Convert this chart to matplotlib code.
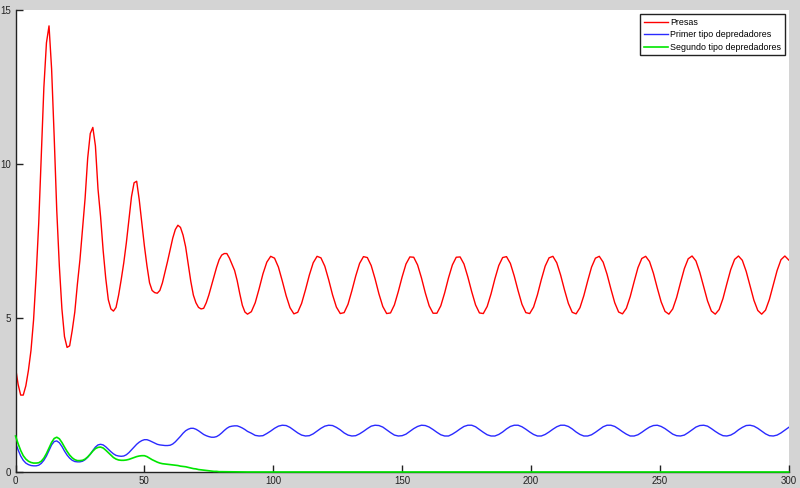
import numpy as np
import matplotlib.pyplot as plt

plt.rcParams['font.family'] = ['Liberation Sans', 'DejaVu Sans']

# sampling grid: fine at the start, coarser once the cycles settle
t_early = np.arange(0, 91, 1.0)
t_late = np.arange(91.5, 300.1, 1.5)
t = np.concatenate([t_early, t_late])

presas_early = [
    3.40, 2.85, 2.50, 2.50, 2.80, 3.30, 3.95, 4.94, 6.38, 8.08,
    10.30, 12.50, 13.95, 14.50, 13.10, 10.90, 8.50, 6.70, 5.30, 4.40,
    4.05, 4.10, 4.60, 5.20, 6.10, 6.90, 7.90, 8.90, 10.20, 11.00,
    11.20, 10.60, 9.20, 8.30, 7.20, 6.30, 5.60, 5.30, 5.23, 5.35,
    5.75, 6.25, 6.80, 7.45, 8.20, 8.95, 9.40, 9.45, 8.85, 8.10,
    7.35, 6.70, 6.15, 5.90, 5.83, 5.81, 5.90, 6.15, 6.50, 6.85,
    7.22, 7.60, 7.88, 8.02, 7.95, 7.70, 7.32, 6.75, 6.20, 5.75,
    5.50, 5.35, 5.30, 5.32, 5.50, 5.75, 6.05, 6.35, 6.65, 6.90,
    7.05, 7.10, 7.10, 6.95, 6.75, 6.55, 6.22, 5.80, 5.42, 5.20,
    5.13,
]
presas_late = [
    5.21, 5.50, 5.95, 6.44, 6.82, 7.01, 6.95, 6.66, 6.21, 5.73,
    5.34, 5.14, 5.19, 5.48, 5.92, 6.40, 6.80, 7.01, 6.96, 6.69,
    6.25, 5.76, 5.36, 5.15, 5.18, 5.45, 5.89, 6.37, 6.78, 7.00,
    6.97, 6.71, 6.28, 5.79, 5.38, 5.15, 5.17, 5.43, 5.86, 6.34,
    6.76, 6.99, 6.98, 6.73, 6.31, 5.82, 5.40, 5.16, 5.16, 5.40,
    5.82, 6.31, 6.73, 6.98, 6.99, 6.76, 6.34, 5.86, 5.43, 5.17,
    5.15, 5.38, 5.79, 6.28, 6.71, 6.97, 7.00, 6.78, 6.37, 5.89,
    5.45, 5.18, 5.15, 5.36, 5.76, 6.25, 6.69, 6.96, 7.01, 6.80,
    6.40, 5.92, 5.48, 5.19, 5.14, 5.34, 5.73, 6.21, 6.66, 6.95,
    7.01, 6.82, 6.43, 5.95, 5.50, 5.20, 5.14, 5.32, 5.70, 6.18,
    6.64, 6.94, 7.01, 6.84, 6.46, 5.98, 5.53, 5.22, 5.13, 5.30,
    5.67, 6.15, 6.61, 6.93, 7.02, 6.86, 6.49, 6.02, 5.56, 5.23,
    5.13, 5.28, 5.64, 6.12, 6.58, 6.91, 7.02, 6.88, 6.52, 6.05,
    5.58, 5.25, 5.13, 5.26, 5.61, 6.08, 6.55, 6.90, 7.02, 6.89,
]

primer_early = [
    0.95, 0.72, 0.52, 0.38, 0.29, 0.24, 0.21, 0.20, 0.20, 0.22,
    0.28, 0.38, 0.52, 0.70, 0.88, 0.99, 1.01, 0.95, 0.83, 0.68,
    0.55, 0.45, 0.38, 0.34, 0.33, 0.33, 0.35, 0.40, 0.48, 0.58,
    0.70, 0.81, 0.88, 0.90, 0.88, 0.82, 0.74, 0.66, 0.59, 0.54,
    0.52, 0.51, 0.52, 0.56, 0.63, 0.72, 0.81, 0.90, 0.97, 1.02,
    1.05, 1.05, 1.02, 0.98, 0.94, 0.90, 0.88, 0.87, 0.86, 0.86,
    0.87, 0.91, 0.98, 1.07, 1.16, 1.26, 1.34, 1.39, 1.42, 1.42,
    1.39, 1.34, 1.28, 1.22, 1.18, 1.15, 1.13, 1.13, 1.15, 1.20,
    1.27, 1.35, 1.42, 1.47, 1.49, 1.50, 1.50, 1.47, 1.43, 1.38,
    1.32,
]
primer_late = [
    1.26, 1.19, 1.17, 1.18, 1.25, 1.33, 1.42, 1.49, 1.52, 1.51,
    1.45, 1.36, 1.27, 1.20, 1.17, 1.18, 1.24, 1.33, 1.42, 1.49,
    1.52, 1.51, 1.45, 1.37, 1.27, 1.20, 1.17, 1.18, 1.24, 1.32,
    1.41, 1.49, 1.52, 1.51, 1.46, 1.37, 1.28, 1.20, 1.17, 1.18,
    1.23, 1.32, 1.41, 1.48, 1.52, 1.51, 1.46, 1.38, 1.29, 1.21,
    1.17, 1.17, 1.23, 1.31, 1.40, 1.48, 1.52, 1.52, 1.47, 1.38,
    1.29, 1.21, 1.17, 1.17, 1.22, 1.30, 1.40, 1.48, 1.52, 1.52,
    1.47, 1.39, 1.30, 1.22, 1.17, 1.17, 1.22, 1.30, 1.39, 1.47,
    1.52, 1.52, 1.48, 1.40, 1.30, 1.22, 1.17, 1.17, 1.21, 1.29,
    1.38, 1.47, 1.52, 1.52, 1.48, 1.40, 1.31, 1.23, 1.17, 1.17,
    1.21, 1.29, 1.38, 1.46, 1.51, 1.52, 1.48, 1.41, 1.32, 1.23,
    1.18, 1.17, 1.20, 1.28, 1.37, 1.46, 1.51, 1.52, 1.49, 1.41,
    1.32, 1.24, 1.18, 1.17, 1.20, 1.27, 1.37, 1.45, 1.51, 1.52,
    1.49, 1.42, 1.33, 1.24, 1.18, 1.17, 1.20, 1.27, 1.36, 1.45,
]

# second predator dies out, so after t=80 only a few flat points are needed
t_segundo = [float(v) for v in range(81)] + [90.0, 150.0, 200.0, 250.0, 300.0]
segundo = [
    1.17, 0.92, 0.70, 0.53, 0.42, 0.35, 0.31, 0.29, 0.29, 0.30,
    0.35, 0.45, 0.60, 0.78, 0.96, 1.09, 1.13, 1.08, 0.96, 0.81,
    0.67, 0.55, 0.46, 0.40, 0.37, 0.37, 0.38, 0.42, 0.49, 0.58,
    0.68, 0.76, 0.80, 0.81, 0.78, 0.71, 0.63, 0.55, 0.47, 0.42,
    0.39, 0.38, 0.38, 0.39, 0.41, 0.44, 0.47, 0.50, 0.52, 0.53,
    0.53, 0.50, 0.45, 0.40, 0.36, 0.32, 0.29, 0.27, 0.26, 0.25,
    0.24, 0.23, 0.22, 0.21, 0.19, 0.18, 0.17, 0.15, 0.13, 0.11,
    0.10, 0.08, 0.07, 0.06, 0.05, 0.04, 0.03, 0.02, 0.02, 0.01,
    0.01, 0.0, 0.0, 0.0, 0.0, 0.0,
]

presas = presas_early + presas_late
primer = primer_early + primer_late

x_ticks = [0, 50, 100, 150, 200, 250, 300]
y_ticks = [0, 5, 10, 15]

fig = plt.figure(figsize=(8, 4.88), dpi=100, facecolor='#d4d4d4')
ax = fig.add_axes([0.0194, 0.0328, 0.9665, 0.9457])

ax.plot(t, presas, color='#ff0000', lw=1.0, label='Presas')
ax.plot(t, primer, color='#2a2aff', lw=1.0, label='Primer tipo depredadores')
ax.plot(t_segundo, segundo, color='#00e600', lw=1.2, label='Segundo tipo depredadores',
        clip_on=False, zorder=3)

ax.set_xlim(0, 300)
ax.set_ylim(0, 15)
ax.set_xticks(x_ticks)
ax.set_yticks(y_ticks)

ax.spines[['top', 'right']].set_visible(False)
for side in ['left', 'bottom']:
    ax.spines[side].set_color('#222222')
    ax.spines[side].set_linewidth(1.0)
ax.tick_params(direction='in', length=5, width=1, labelsize=7, pad=3, colors='#222222')

leg = ax.legend(loc='upper right', bbox_to_anchor=(0.995, 0.992), borderaxespad=0,
                fontsize=6.4, fancybox=False, framealpha=1, edgecolor='#222222',
                handlelength=2.7, handletextpad=0.3, labelspacing=0.4, borderpad=0.4)
leg.get_frame().set_linewidth(1.0)

fig.savefig('out.png', dpi=100, facecolor=fig.get_facecolor())
